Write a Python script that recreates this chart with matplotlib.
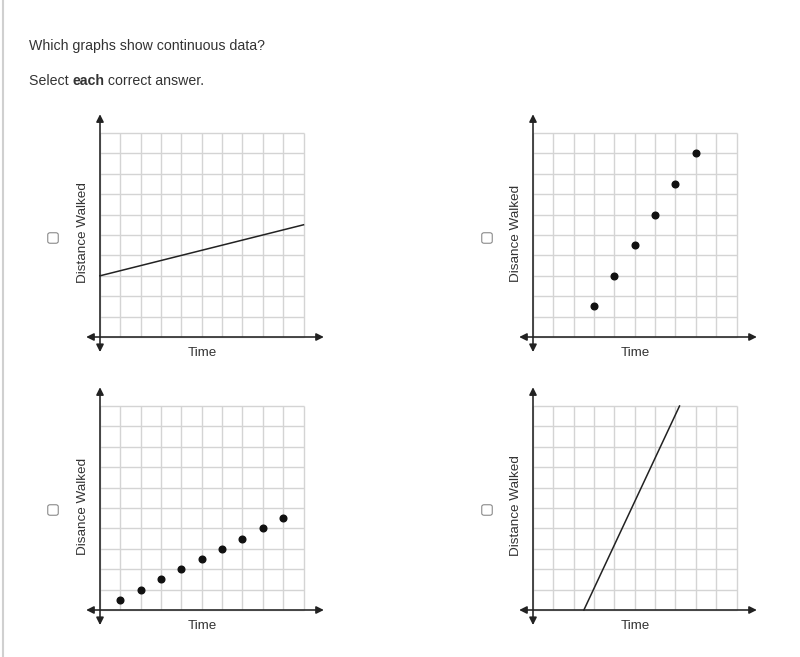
import matplotlib
matplotlib.use('Agg')
import matplotlib.pyplot as plt
import numpy as np
from matplotlib.patches import FancyBboxPatch
from matplotlib.lines import Line2D

plt.rcParams['font.family'] = ['Liberation Sans', 'DejaVu Sans']

# chart data (grid units, 10 x 10 grid)
line_a_x = [0, 10]
line_a_y = [3, 5.5]
dots_b_x = [3, 4, 5, 6, 7, 8]
dots_b_y = [1.5, 3, 4.5, 6, 7.5, 9]
dots_c_x = [1, 2, 3, 4, 5, 6, 7, 8, 9]
dots_c_y = [0.5, 1, 1.5, 2, 2.5, 3, 3.5, 4, 4.5]
line_d_x = [2.5, 7.2]
line_d_y = [0, 10]
x_label = 'Time'
y_labels = ['Distance Walked', 'Disance Walked', 'Disance Walked', 'Distance Walked']
question = 'Which graphs show continuous data?'

W, H = 800, 657
fig = plt.figure(figsize=(W / 100, H / 100), dpi=100)
fig.patch.set_facecolor('white')

CX, CY = 20.35, 20.4   # pixel size of one grid cell
XMIN, XMAX, YMIN, YMAX = -1.2, 11.4, -1.2, 11.2
TXT = '#333333'


def make_panel(ox, oy, ylab):
    # ox, oy: pixel position of grid origin (from top-left of image)
    left = ox + XMIN * CX
    right = ox + XMAX * CX
    top = oy - YMAX * CY
    bottom = oy - YMIN * CY
    ax = fig.add_axes([left / W, 1 - bottom / H, (right - left) / W, (bottom - top) / H])
    ax.set_xlim(XMIN, XMAX)
    ax.set_ylim(YMIN, YMAX)
    ax.axis('off')
    g = np.arange(11)
    ax.vlines(g, 0, 10, color='#d4d4d4', lw=1.0, zorder=1)
    ax.hlines(g, 0, 10, color='#d4d4d4', lw=1.0, zorder=1)
    ap = dict(arrowstyle='<|-|>', color='#222222', lw=1.15, mutation_scale=11,
              shrinkA=0, shrinkB=0)
    ax.annotate('', xy=(11.0, 0), xytext=(-0.68, 0), arrowprops=ap, zorder=3)
    ax.annotate('', xy=(0, 10.92), xytext=(0, -0.74), arrowprops=ap, zorder=3)
    ax.text(5.05, -0.78, x_label, ha='center', va='center', fontsize=9.6, color=TXT)
    ax.text(-0.84, 5.1, ylab, ha='center', va='center', rotation=90, fontsize=9.7, color=TXT)
    return ax


ax1 = make_panel(100, 337, y_labels[0])
ax1.plot(line_a_x, line_a_y, color='#222222', lw=1.1, zorder=4)

ax2 = make_panel(533, 337, y_labels[1])
ax2.plot(dots_b_x, dots_b_y, 'o', color='#111111', ms=4.8, zorder=4)

ax3 = make_panel(100, 610, y_labels[2])
ax3.plot(dots_c_x, dots_c_y, 'o', color='#111111', ms=4.8, zorder=4)

ax4 = make_panel(533, 610, y_labels[3])
ax4.plot(line_d_x, line_d_y, color='#222222', lw=1.1, zorder=4)

# checkboxes
for cx, cy in [(53, 238), (487, 238), (53, 510), (487, 510)]:
    s = 10.5
    box = FancyBboxPatch(((cx - s / 2) / W, 1 - (cy + s / 2) / H), s / W, s / H,
                         boxstyle='round,pad=0,rounding_size=0.003',
                         transform=fig.transFigure, facecolor='white',
                         edgecolor='#8a8a8a', lw=0.8)
    fig.add_artist(box)

# left border
fig.add_artist(Line2D([3 / W, 3 / W], [0, 1], transform=fig.transFigure,
                      color='#d0d0d0', lw=1.5))

# header text
fig.text(29 / W, 1 - 46 / H, question, fontsize=10.2, color=TXT, va='center')
r = fig.canvas.get_renderer()
x = 29 / W
for part, wt in [('Select ', 'normal'), ('each', 'bold'), (' correct answer.', 'normal')]:
    t = fig.text(x, 1 - 81 / H, part, fontsize=10.2, color=TXT, va='center', fontweight=wt)
    bb = t.get_window_extent(renderer=r)
    x += bb.width / W

fig.savefig('out.png', dpi=100, facecolor='white')
